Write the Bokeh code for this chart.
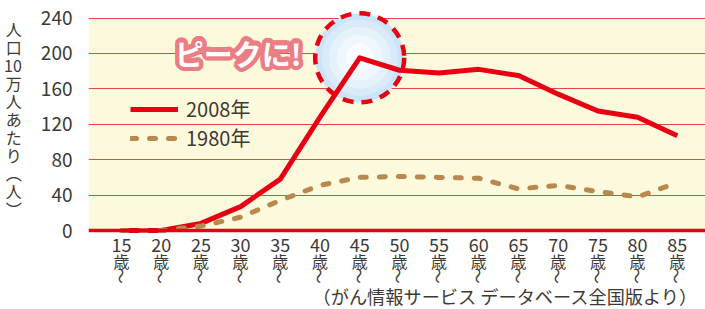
import math
from bokeh.plotting import figure
from bokeh.models import (Range1d, FixedTicker, BoxAnnotation, Span, Label, Legend,
                          LegendItem, ColumnDataSource, LinearAxis)
from bokeh.core.properties import value
from bokeh.embed import file_html
from bokeh.resources import INLINE

# ---- data ----
ages = [15, 20, 25, 30, 35, 40, 45, 50, 55, 60, 65, 70, 75, 80, 85]
age_labels = ["15", "20", "25", "30", "35", "40", "45", "50", "55", "60",
              "65", "70", "75", "80", "85"]
rate_2008 = [0, 0, 8, 27, 58, 128, 195, 181, 178, 182, 175, 154, 135, 128, 107]
rate_1980 = [0, 0, 5, 15, 34, 51, 60, 61, 60, 59, 47, 51, 44, 38, 54]
y_ticks = [0, 40, 80, 120, 160, 200, 240]
series_names = ["2008年", "1980年"]
y_title_chars = ["人", "口", "10", "万", "人", "あ", "た", "り", "︵", "人", "︶"]

FONT = "Noto Sans CJK JP"
RED = "#e60012"
BROWN = "#b8884c"
TXT = "#3d3935"

p = figure(width=705, height=309, output_backend="svg", toolbar_location=None,
           x_range=Range1d(10.844, 88.55), y_range=Range1d(-89.22, 259.77),
           min_border_left=88, min_border_right=0, min_border_top=0,
           min_border_bottom=0)
p.outline_line_color = None
p.background_fill_color = "white"
p.border_fill_color = "white"

# yellow band
p.add_layout(BoxAnnotation(bottom=0, top=240, fill_color="#fdf9dc", fill_alpha=1,
                           line_color=None, level="image"))

# grid
p.xgrid.visible = False
p.ygrid.ticker = FixedTicker(ticks=y_ticks[1:])
p.ygrid.grid_line_color = "#e5444c"
p.ygrid.grid_line_width = 1.2

# y axis
p.yaxis.ticker = FixedTicker(ticks=y_ticks)
p.yaxis.axis_line_color = None
p.yaxis.major_tick_line_color = None
p.yaxis.minor_tick_line_color = None
p.yaxis.major_label_standoff = 10
p.yaxis.major_label_text_font = FONT
p.yaxis.major_label_text_font_size = "19px"
p.yaxis.major_label_text_color = TXT
# vertical-writing axis title (trailing blank lines lift it to match the reference)
p.yaxis.axis_label = "\n".join(y_title_chars + [" "] * 4)
p.yaxis.axis_label_orientation = "horizontal"
p.yaxis.axis_label_text_font = FONT
p.yaxis.axis_label_text_font_size = "16px"
p.yaxis.axis_label_text_font_style = "normal"
p.yaxis.axis_label_text_line_height = 0.75
p.yaxis.axis_label_text_color = TXT
p.yaxis.axis_label_text_align = "center"
p.yaxis.axis_label_standoff = 16


def style_x(ax, labels, size, standoff, font=FONT):
    ax.ticker = FixedTicker(ticks=ages)
    ax.major_label_overrides = {a: l for a, l in zip(ages, labels)}
    ax.axis_line_color = None
    ax.major_tick_line_color = None
    ax.minor_tick_line_color = None
    ax.major_label_standoff = standoff
    ax.major_label_text_font = font
    ax.major_label_text_font_size = size
    ax.major_label_text_color = TXT


# x axis: three rows (age / 歳 / 〜 in vertical writing)
xa = p.xaxis[0]
xa.fixed_location = 0
style_x(xa, age_labels, "18px", 1)
xa2 = LinearAxis(fixed_location=-11.5)
style_x(xa2, ["歳"] * len(ages), "16px", 2)
p.add_layout(xa2, "below")
xa3 = LinearAxis(fixed_location=-33)
style_x(xa3, ["〜"] * len(ages), "16px", 2)
xa3.major_label_orientation = "vertical"
p.add_layout(xa3, "below")

# peak callout circle (centered on the 2008 peak)
peak_i = rate_2008.index(max(rate_2008))
px, py = [ages[peak_i]], [rate_2008[peak_i]]
for s, c in [(89, "#cce4f7"), (76, "#d9ebf9"), (62, "#e5f1fb"), (46, "#eff6fd"), (28, "#f9fcfe")]:
    p.scatter(px, py, size=s, marker="circle", fill_color=c, line_color=None)
p.scatter(px, py, size=89, marker="circle", fill_color=None, line_color=RED,
          line_width=4.5, line_dash="11 8")

# lines
r08 = p.line(ages, rate_2008, line_color=RED, line_width=5, line_join="round")
r80 = p.line(ages, rate_1980, line_color=BROWN, line_width=5, line_dash="6 13",
             line_cap="round")

# zero line
p.add_layout(Span(location=0, dimension="width", line_color=RED, line_width=3.5))

# "ピークに!" outlined text
n = 20
src = ColumnDataSource(dict(
    x=[29.7] * n, y=[201] * n,
    ox=[4.4 * math.cos(2 * math.pi * k / n) for k in range(n)],
    oy=[4.4 * math.sin(2 * math.pi * k / n) for k in range(n)],
    t=["ピークに!"] * n))
p.text(x="x", y="y", text="t", x_offset="ox", y_offset="oy", source=src,
       text_color="#eb7d84", text_font=value(FONT), text_font_style="bold",
       text_font_size="29px", text_align="center", text_baseline="middle")
p.text(x=[29.7], y=[201], text=["ピークに!"], text_color="white",
       text_font=value(FONT), text_font_style="bold", text_font_size="29px",
       text_align="center", text_baseline="middle")

# legend
legend = Legend(items=[LegendItem(label=series_names[0], renderers=[r08]),
                       LegendItem(label=series_names[1], renderers=[r80])],
                location=(42, 157), orientation="vertical",
                background_fill_alpha=0, border_line_color=None,
                padding=0, margin=0, spacing=0, glyph_width=48, glyph_height=20,
                label_height=20, label_standoff=8,
                label_text_font=FONT, label_text_font_size="20px",
                label_text_line_height=0.9, label_text_color=TXT)
p.add_layout(legend, "center")

# source note
p.add_layout(Label(x=87.67, y=-74.5,
                   text="（がん情報サービス データベース全国版より）",
                   text_align="right", text_baseline="middle",
                   text_font=FONT, text_font_size="18.2px", text_color=TXT))

open("out.html", "w").write(file_html(p, INLINE))
